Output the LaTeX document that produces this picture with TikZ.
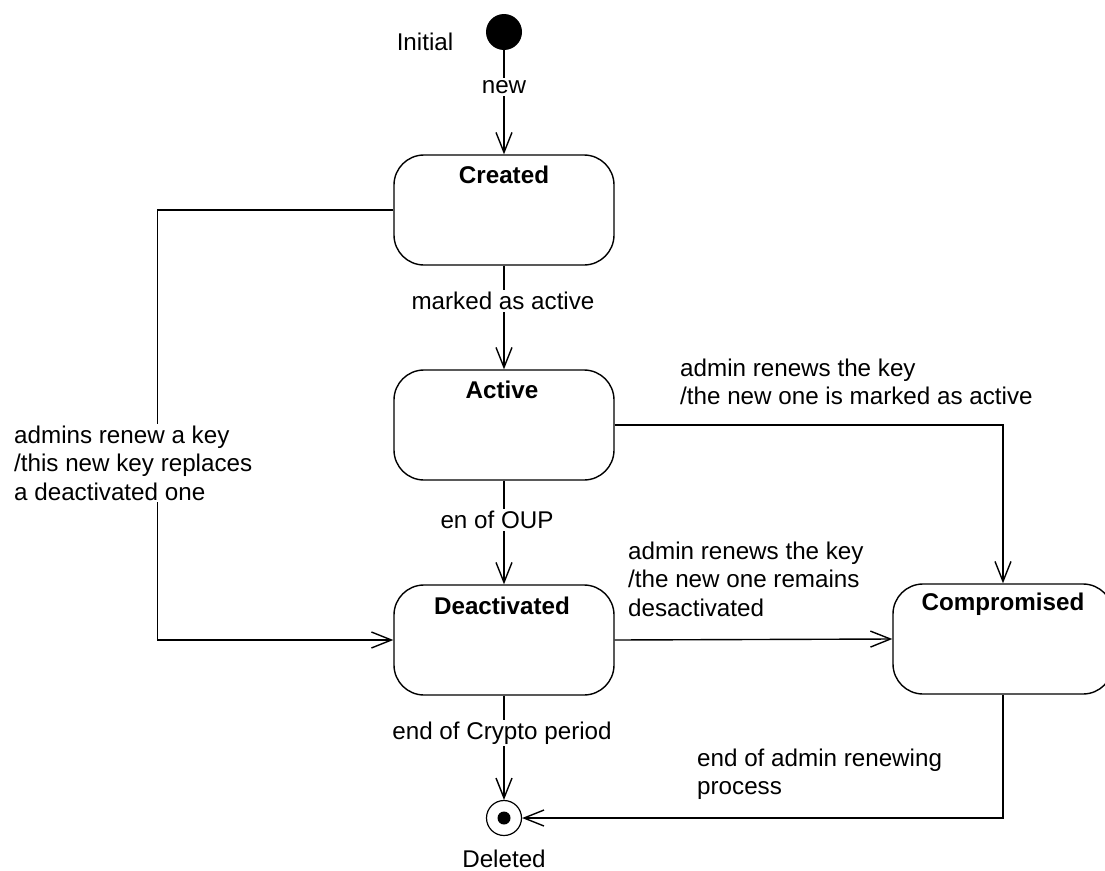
\documentclass[tikz,border=0pt]{standalone}
\usepackage{fontspec}
\setmainfont{Liberation Sans}
\usetikzlibrary{arrows.meta}
\begin{document}
\begin{tikzpicture}[x=1pt,y=-1pt,
  every node/.style={font=\fontsize{24.2}{28.5}\selectfont},
  state/.style={draw, line width=1.4pt, rounded corners=30pt,
    minimum width=220pt, minimum height=110pt, inner sep=0pt},
  title/.style={font=\fontsize{24.2}{28.5}\selectfont\bfseries},
  lbl/.style={fill=white, inner sep=2pt},
  note/.style={fill=white, align=left, anchor=west, inner sep=2pt},
  flow/.style={line width=1.4pt, -{Straight Barb[length=20pt,width=16pt,line width=1.4pt]}},
]
\useasboundingbox (0,0) rectangle (1105,870);

% pseudo-states
\node[circle, fill=black, minimum size=36pt, inner sep=0pt] (init) at (504,32) {};
\node[circle, draw, line width=1.2pt, minimum size=35pt, inner sep=0pt] (final) at (504,818) {};
\node[circle, fill=black, minimum size=13pt, inner sep=0pt] (finaldot) at (final.center) {};

% states
\node[state] (created) at (504,210) {};
\node[state] (active) at (504,425) {};
\node[state] (deact) at (504,640) {};
\node[state] (comp) at (1003,639) {};

\node[title] (createdT) at (504,175) {Created};
\node[title] (activeT) at (502,390) {Active};
\node[title] (deactT) at (502,606) {Deactivated};
\node[title] (compT) at (1003,604) {Compromised};

% transitions
\draw[flow] (init) -- (created);
\draw[flow] (created) -- (active);
\draw[flow] (active) -- (deact);
\draw[flow] (deact) -- (final);
\draw[flow] (created.west) -- ++(-236,0) |- (deact.west);
\draw[flow] (active.east) -| (comp.north);
\draw[flow] (deact.east) -- (comp.west);
\draw[flow] (comp.south) |- (final.east);

% texts
\node (initL) at (425,42) {Initial};
\node (delL) at (504,859) {Deleted};
\node[lbl] (newL) at (504,87) {new};
\node[lbl] (markL) at (503,301) {marked as active};
\node[lbl] (oupL) at (497,520) {en of OUP};
\node[lbl] (cryptoL) at (502,733) {end of Crypto period};
\node[note] (renewL) at (12,463) {admins renew a key\\/this new key replaces\\a deactivated one};
\node[note] (activeCompL) at (678,382) {admin renews the key\\/the new one is marked as active};
\node[note] (deactCompL) at (626,579) {admin renews the key\\/the new one remains\\desactivated};
\node[note] (compFinalL) at (695,774) {end of admin renewing\\process};
\end{tikzpicture}
\end{document}
